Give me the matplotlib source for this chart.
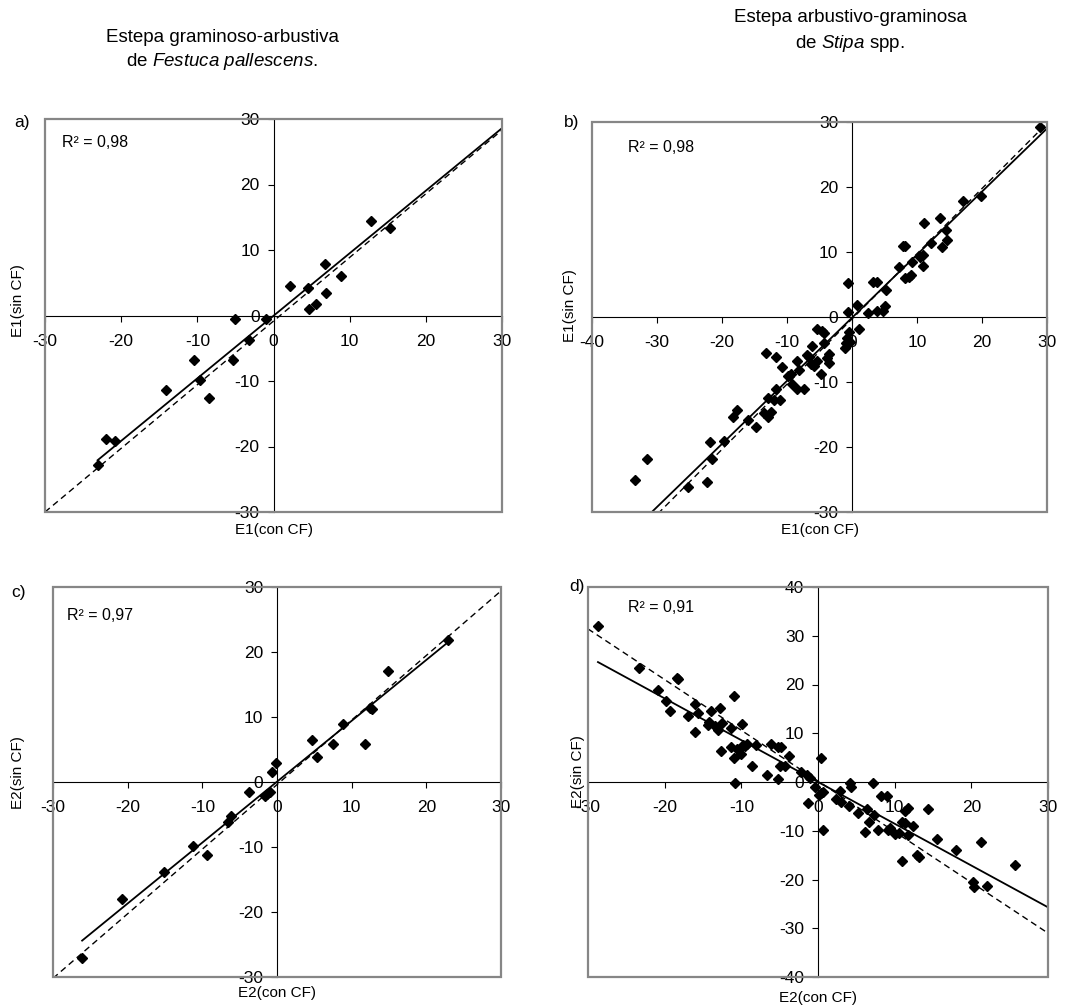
import matplotlib.pyplot as plt
from matplotlib.patches import Rectangle

plt.rcParams["font.family"] = ["Liberation Sans", "DejaVu Sans"]
plt.rcParams["mathtext.fontset"] = "custom"
plt.rcParams["mathtext.rm"] = "Liberation Sans"
plt.rcParams["mathtext.it"] = "Liberation Sans:italic"
plt.rcParams["axes.unicode_minus"] = False

W, H = 1066, 1008

# panel a) E1, Festuca
a_x = [-23.1, -22.0, -20.8, -14.1, -10.5, -9.6, -8.5, -5.0, -5.3, -3.2, -1.0,
       2.2, 4.5, 4.7, 5.6, 6.7, 6.9, 8.8, 12.8, 15.3]
a_y = [-22.8, -18.9, -19.2, -11.3, -6.8, -9.9, -12.6, -0.5, -6.8, -3.7, -0.5,
       4.5, 4.2, 1.0, 1.8, 7.9, 3.4, 6.0, 14.4, 13.4]
a_fit = ([-23.1, 30], [-22.1, 28.6])
a_ref = ([-30, 30], [-30.0, 28.3])

# panel b) E1, Stipa
b_x = [-33.4, -31.5, -25.2, -22.3, -21.8, -21.5, -19.7, -18.3, -17.7, -16.0,
       -14.8, -13.6, -13.3, -13.0, -12.9, -12.5, -12.0, -11.7, -11.7, -11.1,
       -10.7, -9.8, -9.4, -9.2, -8.5, -8.5, -8.2, -7.4, -7.0, -6.6,
       -6.3, -6.1, -5.9, -5.4, -5.4, -4.8, -4.6, -4.3, -4.3, -3.9,
       -3.6, -3.5, -1.1, -0.9, -0.8, -0.5, -0.3, -0.6, -0.6, 0.8,
       1.0, 2.4, 3.3, 3.9, 3.9, 4.8, 5.1, 5.3, 7.2, 7.9,
       8.2, 8.1, 8.7, 9.1, 9.3, 10.5, 10.9, 10.9, 11.0, 12.1,
       13.6, 13.8, 14.5, 14.6, 17.1, 19.8, 28.9]
b_y = [-25.1, -21.9, -26.2, -25.4, -19.3, -21.9, -19.0, -15.4, -14.3, -15.9,
       -16.9, -14.8, -5.6, -12.4, -15.4, -14.6, -12.7, -11.0, -6.1, -12.8,
       -7.7, -9.1, -8.7, -10.3, -6.7, -11.1, -8.2, -11.1, -5.9, -6.2,
       -7.3, -4.5, -7.6, -6.8, -1.8, -8.7, -2.1, -2.5, -4.0, -6.3,
       -7.0, -5.7, -4.8, -4.0, -3.3, -2.3, -3.8, 0.7, 5.2, 1.8,
       -1.9, 0.6, 5.4, 5.4, 1.0, 1.0, 1.7, 4.2, 7.7, 10.9,
       11.0, 6.0, 6.2, 6.4, 8.4, 9.3, 9.6, 7.9, 14.5, 11.4,
       15.3, 10.8, 13.4, 11.8, 17.9, 18.6, 29.3]
b_fit = ([-31.0, 30], [-30.2, 29.0])
b_ref = ([-31.0, 30], [-31.4, 29.8])

# panel c) E2, Festuca
c_x = [-26.1, -20.7, -15.2, -11.3, -9.4, -6.5, -6.2, -3.8, -1.6, -1.3, -1.0,
       -0.7, -0.1, 4.7, 5.4, 7.5, 8.8, 11.8, 12.5, 12.7, 14.8, 22.9]
c_y = [-27.1, -18.0, -13.8, -9.8, -11.2, -6.1, -5.3, -1.5, -2.1, -1.9, -1.5,
       1.6, 2.9, 6.4, 3.8, 5.9, 8.9, 5.9, 11.4, 11.2, 17.1, 21.9]
c_fit = ([-26.1, 22.9], [-24.4, 21.5])
c_ref = ([-30, 30], [-30.2, 29.4])

# panel d) E2, Stipa
d_x = [-28.7, -23.4, -20.9, -19.8, -19.3, -18.4, -18.2, -16.9, -16.0, -16.0,
       -15.7, -14.4, -14.2, -13.9, -13.5, -13.0, -12.8, -12.6, -12.5, -11.4,
       -11.3, -11.0, -11.0, -10.8, -10.6, -10.0, -9.9, -9.8, -9.5, -9.2,
       -8.6, -8.1, -6.7, -6.1, -5.2, -5.2, -4.8, -5.0, -4.3, -3.8,
       -2.2, -1.4, -1.1, -1.3, -0.4, 0.1, 0.4, 0.7, 0.4, 0.7,
       2.3, 2.9, 3.0, 4.1, 4.2, 4.3, 5.2, 6.1, 6.4, 6.7,
       7.2, 7.3, 7.8, 8.2, 9.0, 9.1, 9.4, 10.1, 10.6, 11.0,
       11.0, 11.3, 11.4, 11.7, 11.7, 12.4, 12.9, 13.2, 14.3, 15.5,
       18.0, 20.2, 20.3, 21.3, 22.0, 25.7]
d_y = [32.0, 23.4, 18.8, 16.7, 14.5, 21.3, 21.2, 13.5, 10.3, 16.1,
       14.1, 11.7, 12.4, 14.5, 11.4, 10.7, 15.2, 6.4, 12.1, 11.1,
       7.1, 17.7, 4.9, -0.3, 6.8, 5.7, 12.0, 7.6, 7.3, 7.8,
       3.2, 7.5, 1.4, 7.8, 0.6, 7.1, 7.1, 3.2, 3.2, 5.4,
       2.1, 1.4, 0.8, -4.3, -1.1, -2.7, -2.3, -2.0, 5.0, -9.9,
       -3.5, -1.8, -4.0, -4.9, -0.3, -1.1, -6.3, -10.2, -5.6, -8.2,
       -0.3, -6.8, -9.9, -2.8, -2.8, -9.9, -9.5, -10.6, -10.4, -8.2,
       -16.3, -6.0, -8.5, -5.4, -10.9, -9.0, -15.0, -15.4, -5.6, -11.7,
       -13.9, -20.5, -21.6, -12.4, -21.3, -17.1]
d_fit = ([-28.7, 30], [24.6, -25.7])
d_ref = ([-30, 30], [31.4, -31.0])

GRAY = "#868686"


def fx(x):
    return x / W


def fy(y):
    return 1 - y / H


def make_panel(fig, box, xs, ys, fit, ref, xlim, ylim, ticks_x, ticks_y):
    left, top, right, bottom = box
    ax = fig.add_axes([fx(left), fy(bottom), (right - left) / W, (bottom - top) / H])
    ax.set_xlim(*xlim)
    ax.set_ylim(*ylim)
    ax.set_xticks(ticks_x)
    ax.set_yticks(ticks_y)

    for side in ["left", "bottom"]:
        ax.spines[side].set_position(("data", 0))
        ax.spines[side].set_color("black")
        ax.spines[side].set_linewidth(0.8)
    for side in ["top", "right"]:
        ax.spines[side].set_visible(False)

    ax.add_patch(Rectangle((0, 0), 1, 1, transform=ax.transAxes, fill=False,
                           edgecolor=GRAY, linewidth=1.6, clip_on=False, zorder=5))

    ax.tick_params(axis="x", direction="out", length=4, width=0.8, pad=9,
                   labelsize=12.5)
    ax.tick_params(axis="y", direction="out", length=4, width=0.8, pad=6,
                   labelsize=12.5)

    ax.plot(ref[0], ref[1], color="black", linewidth=1.0, linestyle=(0, (4.5, 3)))
    ax.plot(fit[0], fit[1], color="black", linewidth=1.3)
    ax.plot(xs, ys, linestyle="none", marker="D", markersize=4.8,
            color="black")
    return ax


fig = plt.figure(figsize=(W / 100, H / 100), dpi=100)

make_panel(fig, (45, 119, 502, 512), a_x, a_y, a_fit, a_ref,
           (-30, 30), (-30, 30), range(-30, 31, 10), range(-30, 31, 10))
make_panel(fig, (592, 122, 1047, 512), b_x, b_y, b_fit, b_ref,
           (-40, 30), (-30, 30), range(-40, 31, 10), range(-30, 31, 10))
make_panel(fig, (53, 587, 501, 977), c_x, c_y, c_fit, c_ref,
           (-30, 30), (-30, 30), range(-30, 31, 10), range(-30, 31, 10))
make_panel(fig, (588, 587, 1048, 977), d_x, d_y, d_fit, d_ref,
           (-30, 30), (-40, 40), range(-30, 31, 10), range(-40, 41, 10))

# titles
fig.text(fx(222), fy(37), "Estepa graminoso-arbustiva", ha="center",
         va="center", fontsize=13.5)
fig.text(fx(222), fy(62), r"de $\mathit{Festuca\ pallescens}$.", ha="center",
         va="center", fontsize=13.5)
fig.text(fx(850), fy(18), "Estepa arbustivo-graminosa", ha="center",
         va="center", fontsize=13.5)
fig.text(fx(850), fy(44), r"de $\mathit{Stipa}$ spp.", ha="center",
         va="center", fontsize=13.5)

# panel letters
for lab, x, y in [("a)", 22, 122), ("b)", 572, 123), ("c)", 19, 593), ("d)", 577, 587)]:
    fig.text(fx(x), fy(y), lab, ha="center", va="center", fontsize=12.5)

# R2
for lab, x, y in [("R² = 0,98", 62, 143), ("R² = 0,98", 628, 148),
                  ("R² = 0,97", 67, 616), ("R² = 0,91", 628, 607)]:
    fig.text(fx(x), fy(y), lab, ha="left", va="center", fontsize=11.5)

# axis titles
for lab, x, y in [("E1(con CF)", 274, 530), ("E1(con CF)", 820, 530),
                  ("E2(con CF)", 277, 993), ("E2(con CF)", 818, 998)]:
    fig.text(fx(x), fy(y), lab, ha="center", va="center", fontsize=11)
for lab, x, y in [("E1(sin CF)", 18, 301), ("E1(sin CF)", 570, 306),
                  ("E2(sin CF)", 18, 773), ("E2(sin CF)", 578, 772)]:
    fig.text(fx(x), fy(y), lab, ha="center", va="center", fontsize=11,
             rotation=90)

fig.savefig("out.png", dpi=100)
